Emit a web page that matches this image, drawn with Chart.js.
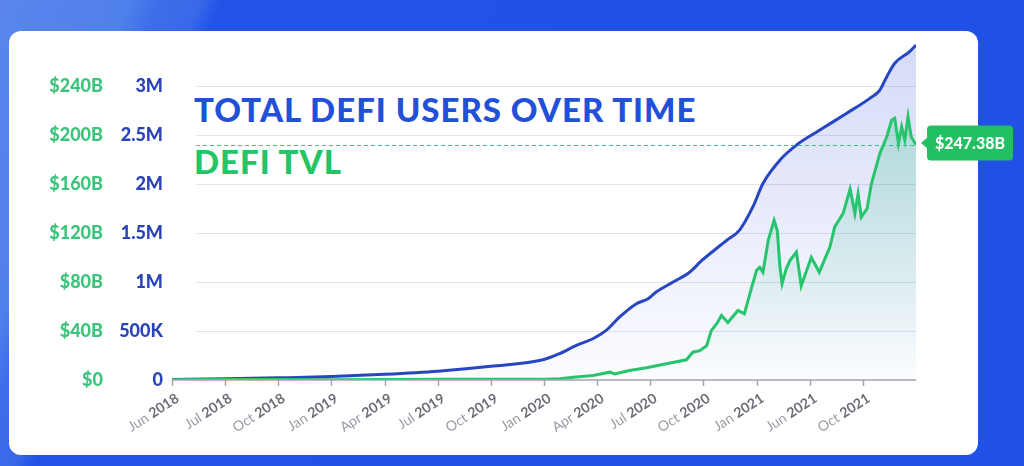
<!DOCTYPE html>
<html>
<head>
<meta charset="utf-8">
<script src="https://cdn.jsdelivr.net/npm/chart.js@4/dist/chart.umd.min.js"></script>
<style>
  html, body { margin: 0; padding: 0; }
  body {
    width: 1024px; height: 466px; overflow: hidden; position: relative;
    background: linear-gradient(112deg, #5a86ec 0px, #5080eb 120px, #3d6de8 150px, #3a69e8 185px, #2253e7 205px, #2050e6 100%);
  }
  .card {
    position: absolute; left: 9px; top: 31px; width: 969px; height: 424px;
    background: #fff; border-radius: 12px;
  }
  .title {
    position: absolute; left: 194px; margin: 0;
    font-family: Lato, "Open Sans", sans-serif; font-weight: 900; line-height: 1;
    letter-spacing: 1px; white-space: nowrap;
  }
  #t1 { top: 93px; font-size: 33px; color: #2250d8; }
  #t2 { top: 145px; font-size: 33px; color: #25c466; }
  canvas { position: absolute; left: 0; top: 0; }
</style>
</head>
<body>
<div class="card"></div>
<div class="title" id="t1">TOTAL DEFI USERS OVER TIME</div>
<div class="title" id="t2">DEFI TVL</div>
<canvas id="chart" width="1024" height="466"></canvas>
<script>
// x 轴标签 (等距)
const xLabels = ['Jun 2018', 'Jul 2018', 'Oct 2018', 'Jan 2019', 'Apr 2019', 'Jul 2019', 'Oct 2019',
    'Jan 2020', 'Apr 2020', 'Jul 2020', 'Oct 2020', 'Jan 2021', 'Jun 2021', 'Oct 2021'];

// 用户数 (百万) —— 位置为标签序号
const userPos = [0, 1, 2, 3, 4, 5, 6, 7, 7.29, 7.61, 7.92, 8.17, 8.42, 8.74, 8.96, 9.11, 9.43, 9.74, 9.97,
    10.28, 10.44, 10.68, 10.93, 11.12, 11.44, 11.75, 12.19, 12.69, 13.13, 13.32, 13.45, 13.6, 13.88, 14];
const usersM = [0.005, 0.012, 0.022, 0.035, 0.058, 0.09, 0.14, 0.21, 0.268, 0.353, 0.421, 0.506, 0.642, 0.779,
    0.83, 0.897, 1.0, 1.1, 1.22, 1.357, 1.426, 1.53, 1.766, 2.005, 2.244, 2.397, 2.55, 2.72, 2.874, 2.959,
    3.095, 3.232, 3.35, 3.419];

// TVL ($B)
const tvlPos = [0, 1, 2, 3, 4, 5, 6, 7, 7.29, 7.6, 7.92, 8.24, 8.33, 8.61, 8.93, 9.3, 9.68, 9.8, 9.93, 10.06,
    10.15, 10.25, 10.34, 10.46, 10.65, 10.77, 10.84, 10.89, 11.0, 11.06, 11.12, 11.22, 11.33, 11.39, 11.44,
    11.48, 11.56, 11.63, 11.75, 11.84, 12.03, 12.18, 12.38, 12.47, 12.63, 12.76, 12.85, 12.91, 12.97, 13.08,
    13.16, 13.32, 13.45, 13.54, 13.6, 13.67, 13.73, 13.79, 13.85, 13.91, 14];
const tvlB = [0.3, 0.5, 0.4, 0.3, 0.5, 0.6, 0.6, 0.7, 1, 2.5, 3.7, 6.4, 5, 7.8, 10, 13.2, 16.5, 22.7, 24, 28,
    40.5, 46, 52.7, 47, 56.8, 54, 65, 73, 89.5, 92, 88, 114, 130.4, 122, 92,
    78.7, 91, 97.7, 104.5, 77, 100, 88, 108.6, 125, 136, 156, 136, 152, 133, 140,
    160, 185, 198.5, 212, 213.6, 193, 206.7, 196, 215, 198.5, 192];

const tvlLabel = '$247.38B';
const usersTicks = [0, 0.5, 1, 1.5, 2, 2.5, 3];
const tvlTicks = [0, 40, 80, 120, 160, 200, 240];

const toPts = (xs, ys) => xs.map((x, i) => ({ x: x, y: ys[i] }));

function grad(ctx, top, bottom) {
    const { chart } = ctx;
    const area = chart.chartArea;
    if (!area) return top;
    const g = chart.ctx.createLinearGradient(0, area.top, 0, area.bottom);
    g.addColorStop(0, top);
    g.addColorStop(1, bottom);
    return g;
}

const decor = {
    id: 'decor',
    beforeDatasetsDraw(chart) {
        const c = chart.ctx, a = chart.chartArea, y = chart.scales.yUsers;
        c.save();
        c.strokeStyle = '#e2e3ea';
        c.lineWidth = 1;
        usersTicks.slice(1).forEach(v => {
            const py = Math.round(y.getPixelForValue(v)) + 0.5;
            c.beginPath(); c.moveTo(196, py); c.lineTo(a.right, py); c.stroke();
        });
        c.restore();
    },
    afterDatasetsDraw(chart) {
        const c = chart.ctx, a = chart.chartArea, x = chart.scales.x, yT = chart.scales.yTvl;
        c.save();
        // x 轴线与刻度
        c.strokeStyle = '#a3a5ad';
        c.lineWidth = 1.5;
        c.beginPath(); c.moveTo(a.left, a.bottom); c.lineTo(a.right, a.bottom); c.stroke();
        xLabels.forEach((lab, i) => {
            const px = Math.round(x.getPixelForValue(i)) + 0.5;
            c.beginPath(); c.moveTo(px, a.bottom); c.lineTo(px, a.bottom + 6); c.stroke();
            const [m, yr] = lab.split(' ');
            c.save();
            c.translate(px + 5, a.bottom + 17);
            c.rotate(-33 * Math.PI / 180);
            c.textAlign = 'right';
            c.textBaseline = 'middle';
            c.font = 'bold 14px Lato, sans-serif';
            c.fillStyle = '#6b6e78';
            c.fillText(yr, 0, 0);
            const w = c.measureText(yr).width;
            c.font = '14px Lato, sans-serif';
            c.fillStyle = '#9a9ca6';
            c.fillText(m + ' ', -w, 0);
            c.restore();
        });
        // 最新值虚线
        const last = tvlB[tvlB.length - 1];
        const ly = Math.round(yT.getPixelForValue(last)) + 0.5;
        c.strokeStyle = 'rgba(40, 190, 120, 0.9)';
        c.lineWidth = 1;
        c.setLineDash([4, 3]);
        c.beginPath(); c.moveTo(196, ly); c.lineTo(a.right, ly); c.stroke();
        c.setLineDash([]);
        // 标签
        const bx = 927, bw = 86, bh = 35, by = ly - 20;
        c.fillStyle = '#22c063';
        c.beginPath();
        c.roundRect(bx, by, bw, bh, 4);
        c.fill();
        c.beginPath();
        c.moveTo(bx + 1, by + bh / 2 - 6); c.lineTo(bx - 6, by + bh / 2); c.lineTo(bx + 1, by + bh / 2 + 6);
        c.closePath(); c.fill();
        c.fillStyle = '#ffffff';
        c.font = '900 16px Lato, sans-serif';
        c.textAlign = 'center';
        c.textBaseline = 'middle';
        c.fillText(tvlLabel, bx + bw / 2, by + bh / 2 + 1);
        c.restore();
    }
};

new Chart(document.getElementById('chart'), {
    type: 'line',
    data: {
        datasets: [
            {
                label: 'DeFi TVL',
                data: toPts(tvlPos, tvlB),
                yAxisID: 'yTvl',
                borderColor: '#27c46d',
                borderWidth: 3,
                pointRadius: 0,
                tension: 0,
                fill: 'origin',
                backgroundColor: ctx => grad(ctx, 'rgba(45, 190, 135, 0.34)', 'rgba(45, 190, 135, 0.0)')
            },
            {
                label: 'Total DeFi Users',
                data: toPts(userPos, usersM),
                yAxisID: 'yUsers',
                borderColor: '#2746c2',
                borderWidth: 3,
                pointRadius: 0,
                cubicInterpolationMode: 'monotone',
                fill: 'origin',
                backgroundColor: ctx => grad(ctx, 'rgba(90, 110, 225, 0.26)', 'rgba(90, 110, 225, 0.02)')
            }
        ]
    },
    options: {
        responsive: false,
        devicePixelRatio: 1,
        animation: false,
        layout: { padding: { top: 37, left: 43, right: 108, bottom: 0 } },
        plugins: { legend: { display: false }, tooltip: { enabled: false } },
        scales: {
            x: {
                type: 'linear', min: 0, max: 14,
                grid: { display: false, drawTicks: false },
                border: { display: false },
                ticks: { display: false },
                afterFit: s => { s.height = 86; }
            },
            yUsers: {
                position: 'left', weight: 0,
                min: 0, max: 3.5,
                grid: { display: false, drawTicks: false },
                border: { display: false },
                afterBuildTicks: s => { s.ticks = usersTicks.map(v => ({ value: v })); },
                afterFit: s => { s.width = 69; },
                ticks: {
                    padding: 9,
                    color: '#2a44b8',
                    font: { family: 'Lato', weight: '900', size: 18 },
                    callback: v => v === 0 ? '0' : (v < 1 ? (v * 1000) + 'K' : v + 'M')
                }
            },
            yTvl: {
                position: 'left', weight: 1,
                min: 0, max: 280,
                grid: { display: false, drawTicks: false },
                border: { display: false },
                afterBuildTicks: s => { s.ticks = tvlTicks.map(v => ({ value: v })); },
                afterFit: s => { s.width = 60; },
                ticks: {
                    padding: 0,
                    color: '#3cc47c',
                    font: { family: 'Lato', weight: '900', size: 18 },
                    callback: v => v === 0 ? '$0' : '$' + v + 'B'
                }
            }
        }
    },
    plugins: [decor]
});
</script>
</body>
</html>
